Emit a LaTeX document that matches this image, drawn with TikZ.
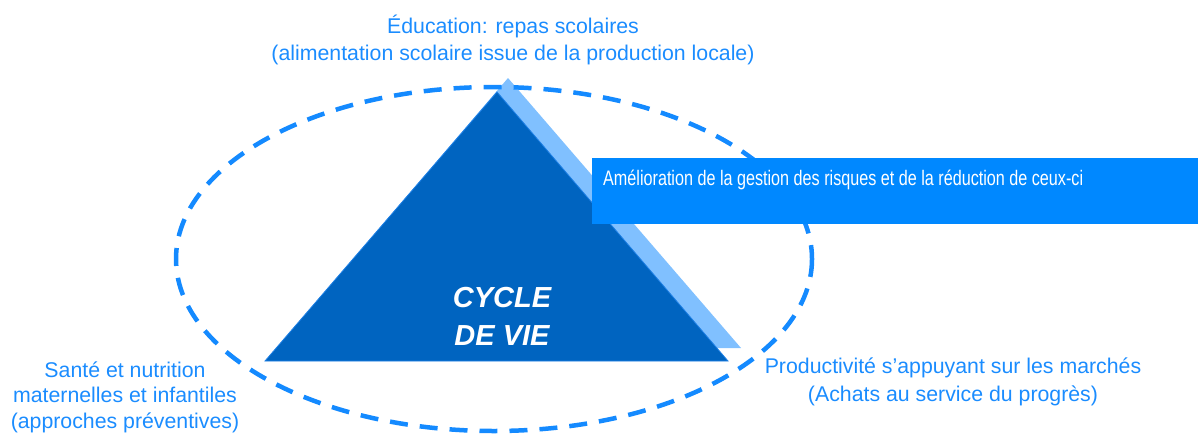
\documentclass[tikz,border=0pt]{standalone}
\usepackage{fontspec}
\setmainfont{Liberation Sans}
\definecolor{darktri}{RGB}{0,100,192}
\definecolor{edgetri}{RGB}{30,128,230}
\definecolor{lighttri}{RGB}{128,192,255}
\definecolor{boxblue}{RGB}{0,136,255}
\definecolor{txtblue}{RGB}{26,140,255}
\definecolor{dashblue}{RGB}{20,138,255}
\tikzset{
  lbl/.style={text=txtblue, align=center, inner sep=0pt, anchor=base},
  ring/.style={draw=dashblue, line width=4.5pt, dash pattern=on 18pt off 12pt},
}
\begin{document}
\begin{tikzpicture}[x=1pt,y=-1pt]
\useasboundingbox (0,0) rectangle (1198,434);
% shadow triangle
\coordinate (sA) at (508,78);
\coordinate (sL) at (277,348);
\coordinate (sR) at (741,348);
\fill[lighttri] (sL) -- (sA) -- (sR) -- cycle;
% main triangle
\coordinate (tA) at (497,92);
\coordinate (tL) at (265,361);
\coordinate (tR) at (728,361);
\fill[darktri, draw=edgetri, line width=0.8pt, line join=miter] (tL) -- (tA) -- (tR) -- cycle;
% dashed ellipse
\draw[ring] (494,259) ellipse [x radius=318, y radius=172];
% box
\node[fill=boxblue, minimum width=606pt, minimum height=66pt, anchor=north west, inner sep=0pt] (box) at (592,158) {};
\node[text=white, font=\fontsize{21}{24}\selectfont, anchor=base west, inner sep=0pt] (boxtxt) at (603,185) {\scalebox{0.77}[1]{Amélioration de la gestion des risques et de la réduction de ceux-ci}};
% center text
\node[text=white, font=\fontsize{29}{38}\selectfont\bfseries\itshape, align=center, anchor=base, inner sep=0pt] (cyc) at (502,345) {CYCLE\\DE VIE};
% labels
\node[lbl, font=\fontsize{21.3}{27}\selectfont] (top) at (513,60) {Éducation: repas scolaires\\(alimentation scolaire issue de la production locale)};
\node[lbl, font=\fontsize{21.3}{25.5}\selectfont] (left) at (125,428) {Santé et nutrition\\maternelles et infantiles\\(approches préventives)};
\node[lbl, font=\fontsize{21.3}{28}\selectfont] (right) at (953,401) {Productivité s’appuyant sur les marchés\\(Achats au service du progrès)};
\end{tikzpicture}
\end{document}
